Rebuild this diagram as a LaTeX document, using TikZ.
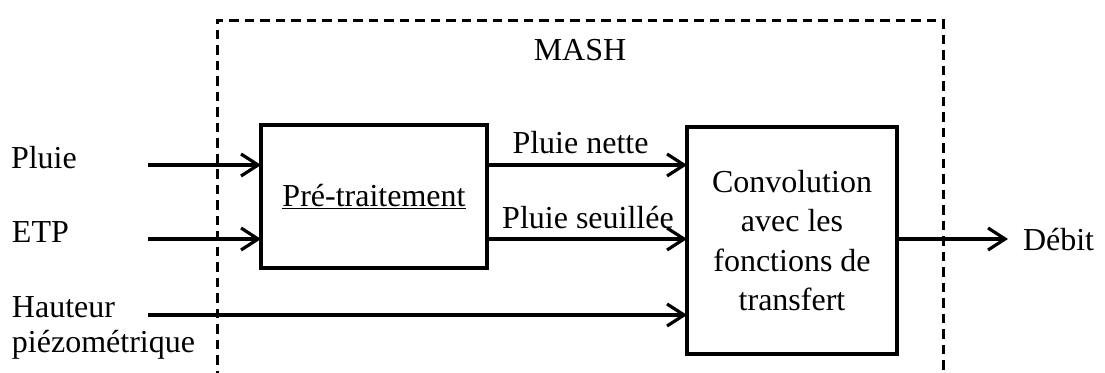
\documentclass[tikz,border=0pt]{standalone}
\usepackage{fontspec}
\setmainfont{Liberation Serif}
\usetikzlibrary{arrows.meta}
\begin{document}
\begin{tikzpicture}[x=1pt,y=-1pt,
  every node/.style={font=\fontsize{32}{39.5}\selectfont, inner sep=0pt, outer sep=0pt},
  blockbox/.style={draw, line width=3.3pt},
  arr/.style={line width=3.2pt, -{Straight Barb[length=17pt,width=22pt,line width=3.2pt]}},
  dashbox/.style={line width=3pt, dash pattern=on 9.5pt off 6pt}]
\useasboundingbox (0,0) rectangle (1105,372);
% dashed MASH boundary (bottom lies outside the picture)
\coordinate (dbl) at (217,380);
\coordinate (dtl) at (217,20);
\coordinate (dtr) at (943,20);
\coordinate (dbr) at (943,380);
\draw[dashbox] (dbl) -- (dtl) -- (dtr) -- (dbr);
\node[anchor=base] (mash) at (580,60) {MASH};
% blocks
\node[blockbox, minimum width=226pt, minimum height=143pt, text height=20pt, text depth=1pt] (pre) at (374,196.5) {\underline{Pré-traitement}};
\node[blockbox, minimum width=210pt, minimum height=227pt, align=center] (conv) at (792,240.5) {Convolution\\avec les\\fonctions de\\transfert};
% inputs
\node[anchor=base west] (pluie) at (11,168) {Pluie};
\node[anchor=base west] (etp) at (12,242) {ETP};
\node[anchor=base west] (haut) at (12,317) {Hauteur};
\node[anchor=base west] (piezo) at (12,352) {piézométrique};
\coordinate (pin) at (148,165);
\coordinate (ein) at (148,239);
\coordinate (hin) at (148,315);
\draw[arr] (pin) -- (pin -| pre.west);
\draw[arr] (ein) -- (ein -| pre.west);
\draw[arr] (hin) -- (hin -| conv.west);
% intermediate flows
\coordinate (pn) at (487,165);
\coordinate (ps) at (487,239);
\draw[arr] (pn -| pre.east) -- (pn -| conv.west);
\draw[arr] (ps -| pre.east) -- (ps -| conv.west);
\node[anchor=base] (lpn) at (580.5,153) {Pluie nette};
\node[anchor=base] (lps) at (588,228) {Pluie seuillée};
% output
\coordinate (dout) at (1008,239);
\draw[arr] (dout -| conv.east) -- (dout);
\node[anchor=base west] (debit) at (1023,250) {Débit};
\end{tikzpicture}
\end{document}
